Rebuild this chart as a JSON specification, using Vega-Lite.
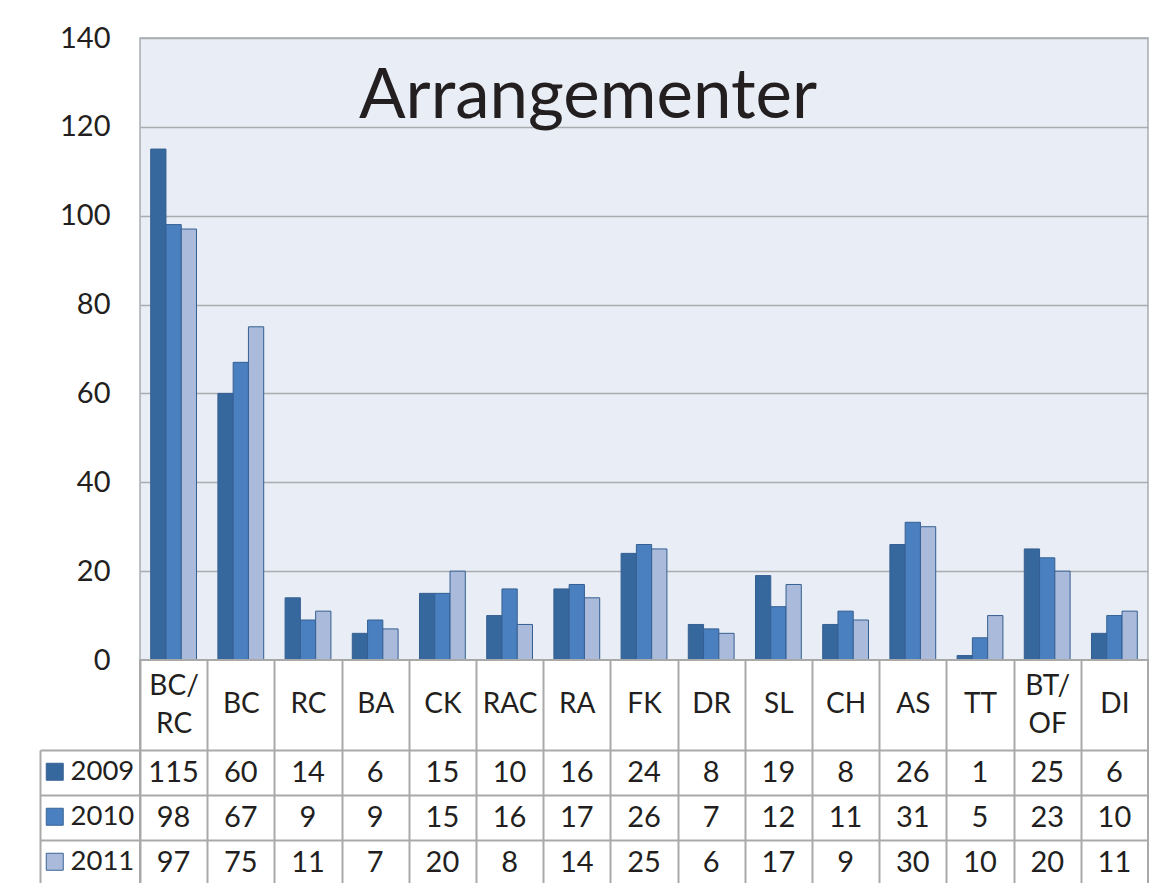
{
  "$schema": "https://vega.github.io/schema/vega-lite/v6.json",
  "padding": {"left": 38, "top": 23, "right": 3, "bottom": 0},
  "background": "white",
  "config": {"font": "Lato"},
  "bounds": "flush",
  "resolve": {"legend": {"color": "independent"}, "scale": {"color": "independent"}},
  "data": {"values": [
    {"cat": "BC/RC", "year": "2009", "value": 115}, {"cat": "BC/RC", "year": "2010", "value": 98}, {"cat": "BC/RC", "year": "2011", "value": 97},
    {"cat": "BC", "year": "2009", "value": 60}, {"cat": "BC", "year": "2010", "value": 67}, {"cat": "BC", "year": "2011", "value": 75},
    {"cat": "RC", "year": "2009", "value": 14}, {"cat": "RC", "year": "2010", "value": 9}, {"cat": "RC", "year": "2011", "value": 11},
    {"cat": "BA", "year": "2009", "value": 6}, {"cat": "BA", "year": "2010", "value": 9}, {"cat": "BA", "year": "2011", "value": 7},
    {"cat": "CK", "year": "2009", "value": 15}, {"cat": "CK", "year": "2010", "value": 15}, {"cat": "CK", "year": "2011", "value": 20},
    {"cat": "RAC", "year": "2009", "value": 10}, {"cat": "RAC", "year": "2010", "value": 16}, {"cat": "RAC", "year": "2011", "value": 8},
    {"cat": "RA", "year": "2009", "value": 16}, {"cat": "RA", "year": "2010", "value": 17}, {"cat": "RA", "year": "2011", "value": 14},
    {"cat": "FK", "year": "2009", "value": 24}, {"cat": "FK", "year": "2010", "value": 26}, {"cat": "FK", "year": "2011", "value": 25},
    {"cat": "DR", "year": "2009", "value": 8}, {"cat": "DR", "year": "2010", "value": 7}, {"cat": "DR", "year": "2011", "value": 6},
    {"cat": "SL", "year": "2009", "value": 19}, {"cat": "SL", "year": "2010", "value": 12}, {"cat": "SL", "year": "2011", "value": 17},
    {"cat": "CH", "year": "2009", "value": 8}, {"cat": "CH", "year": "2010", "value": 11}, {"cat": "CH", "year": "2011", "value": 9},
    {"cat": "AS", "year": "2009", "value": 26}, {"cat": "AS", "year": "2010", "value": 31}, {"cat": "AS", "year": "2011", "value": 30},
    {"cat": "TT", "year": "2009", "value": 1}, {"cat": "TT", "year": "2010", "value": 5}, {"cat": "TT", "year": "2011", "value": 10},
    {"cat": "BT/OF", "year": "2009", "value": 25}, {"cat": "BT/OF", "year": "2010", "value": 23}, {"cat": "BT/OF", "year": "2011", "value": 20},
    {"cat": "DI", "year": "2009", "value": 6}, {"cat": "DI", "year": "2010", "value": 10}, {"cat": "DI", "year": "2011", "value": 11}
  ]},
  "spacing": 0,
  "vconcat": [
    {
      "width": 1008,
      "height": 622,
      "view": {"fill": "#E9EEF6", "stroke": "#A9ACB1", "strokeWidth": 1.5},
      "title": {"text": "Arrangementer", "fontSize": 69, "font": "Lato", "fontWeight": "normal", "color": "#231F20", "anchor": "middle", "dx": -56, "offset": -163, "baseline": "alphabetic"},
      "mark": {"type": "bar", "stroke": "#355F92", "strokeWidth": 1},
      "encoding": {
        "x": {"field": "cat", "type": "nominal", "sort": null, "axis": null, "scale": {"paddingInner": 0, "paddingOuter": 0}},
        "xOffset": {"field": "year", "type": "nominal", "scale": {"paddingInner": 0, "paddingOuter": 0.7}},
        "y": {"field": "value", "type": "quantitative", "scale": {"domain": [0, 140], "nice": false},
          "axis": {"title": null, "values": [0, 20, 40, 60, 80, 100, 120, 140], "ticks": false, "domain": false, "labelFontSize": 29, "labelColor": "#231F20", "labelPadding": 30, "gridColor": "#A9ACB1", "gridWidth": 1.5, "minExtent": 100, "maxExtent": 100}},
        "color": {"field": "year", "type": "nominal", "scale": {"range": ["#36679D", "#4A80C0", "#A9BADB"]}, "legend": null}
      }
    },
    {
      "width": 1008,
      "height": 225,
      "view": {"fill": "white", "stroke": "#A9A9A9", "strokeWidth": 2},
      "encoding": {
        "x": {"field": "cat", "type": "nominal", "sort": null, "scale": {"paddingInner": 0, "paddingOuter": 0},
          "axis": {"orient": "top", "title": null, "ticks": false, "domain": false, "labelAngle": 0, "labelFontSize": 28, "labelColor": "#231F20", "labelBaseline": "middle", "labelPadding": {"condition": {"test": "indexof(datum.label,'/')>0", "value": -26}, "value": -44}, "labelLineHeight": 38, "labelExpr": "indexof(datum.label,'/')>0 ? [slice(datum.label,0,indexof(datum.label,'/')+1), slice(datum.label,indexof(datum.label,'/')+1)] : datum.label", "grid": true, "tickBand": "extent", "gridColor": "#A9A9A9", "gridWidth": 2}},
        "y": {"field": "year", "type": "nominal", "scale": {"domain": ["2009", "2010", "2011"], "paddingInner": 0, "paddingOuter": 1, "align": 1},
          "axis": {"title": null, "labels": false, "offset": 100, "tickSize": -100, "tickBand": "extent", "tickColor": "#A9A9A9", "tickWidth": 2, "domain": true, "domainColor": "#A9A9A9", "domainWidth": 2, "domainDash": [0, 90, 300, 0], "grid": true, "gridColor": "#A9A9A9", "gridWidth": 2}}
      },
      "layer": [
        {
          "mark": {"type": "point", "shape": "square", "filled": true, "opacity": 0},
          "encoding": {
            "color": {"field": "year", "type": "nominal", "scale": {"domain": ["2009", "2010", "2011"], "range": ["#36679D", "#4A80C0", "#A9BADB"]},
              "legend": {"orient": "none", "legendX": -99, "legendY": 98, "title": null, "symbolType": "square", "symbolSize": 289, "symbolStrokeColor": "#3A6496", "symbolStrokeWidth": 1, "symbolOpacity": 1, "labelFontSize": 27.5, "labelColor": "#231F20", "labelOffset": 2, "rowPadding": 16, "padding": 0}}
          }
        },
        {
          "mark": {"type": "text", "fontSize": 29, "color": "#231F20"},
          "encoding": {"text": {"field": "value", "type": "quantitative"}}
        }
      ]
    }
  ]
}
